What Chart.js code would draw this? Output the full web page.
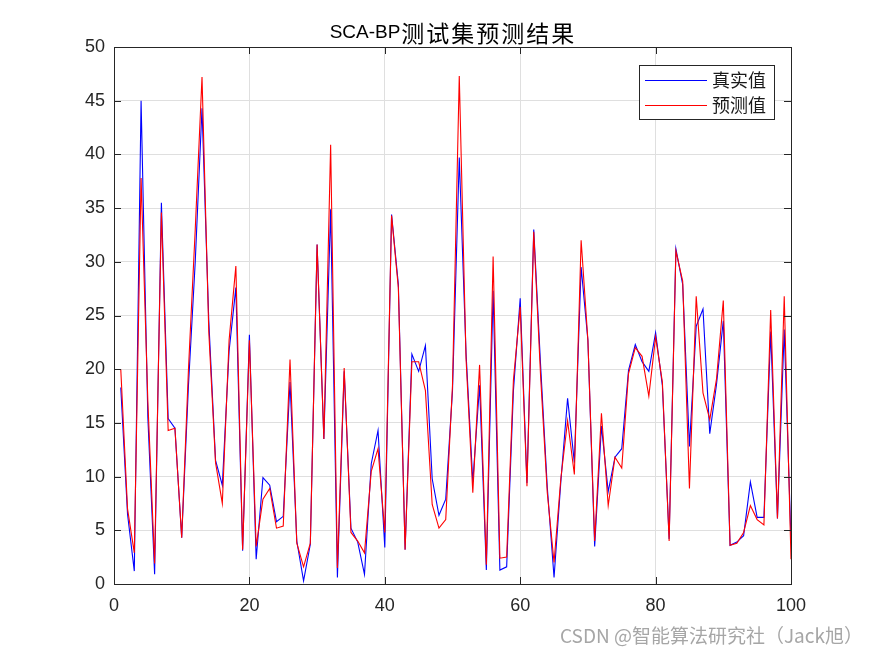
<!DOCTYPE html>
<html>
<head>
<meta charset="utf-8">
<script src="https://cdn.jsdelivr.net/npm/chart.js@4.4.1/dist/chart.umd.min.js"></script>
<style>
    html, body { margin: 0; padding: 0; background: #fff; }
    canvas { display: block; }
</style>
</head>
<body>
<canvas id="chart" width="875" height="656"></canvas>
<script>
// Data (sample index 1..100)
const realValues = [
    18.3, 6.5, 1.2, 45.0, 15.5, 0.9, 35.5, 15.4, 14.5, 4.3,
    18.5, 30.0, 44.3, 24.5, 11.5, 9.2, 21.7, 27.6, 3.1, 23.2,
    2.3, 9.9, 9.2, 5.8, 6.3, 18.8, 4.0, 0.3, 3.7, 31.6,
    13.5, 34.9, 0.6, 19.8, 5.2, 3.9, 0.9, 11.2, 14.3, 3.4,
    34.4, 27.9, 3.2, 21.4, 19.8, 22.2, 9.8, 6.4, 7.9, 18.0,
    39.7, 21.5, 9.5, 18.5, 1.3, 27.3, 1.3, 1.6, 18.0, 26.6,
    9.4, 33.0, 20.5, 9.0, 0.6, 9.5, 17.3, 11.3, 29.5, 22.7,
    3.5, 14.7, 8.6, 11.8, 12.6, 19.9, 22.3, 20.7, 19.8, 23.4,
    18.5, 4.2, 31.2, 27.9, 12.8, 24.0, 25.6, 14.0, 18.6, 24.5,
    3.6, 3.9, 4.5, 9.5, 6.2, 6.2, 23.5, 6.1, 23.7, 4.0
];
const predValues = [
    20.0, 7.0, 2.9, 37.8, 17.0, 1.9, 34.6, 14.3, 14.5, 4.3,
    20.0, 33.0, 47.2, 23.5, 11.3, 7.5, 22.7, 29.6, 3.2, 22.7,
    3.5, 7.9, 8.9, 5.2, 5.4, 20.9, 3.8, 1.6, 3.8, 31.6,
    13.5, 40.9, 1.5, 20.1, 4.8, 4.0, 2.9, 10.5, 12.6, 4.8,
    34.3, 27.6, 3.2, 20.7, 20.7, 18.0, 7.4, 5.2, 6.0, 18.5,
    47.3, 21.0, 8.5, 20.4, 1.8, 30.5, 2.4, 2.5, 19.0, 25.8,
    9.1, 32.8, 19.5, 8.5, 2.0, 9.8, 15.2, 10.2, 32.0, 22.7,
    4.0, 15.9, 7.3, 11.8, 10.8, 19.6, 22.0, 21.2, 17.5, 23.0,
    18.8, 4.0, 31.0, 28.2, 8.9, 26.8, 17.8, 15.3, 19.1, 26.4,
    3.6, 3.8, 4.8, 7.3, 6.0, 5.5, 25.5, 6.1, 26.8, 2.3
];
const seriesNames = ['真实值', '预测值'];
const xTicks = [0, 20, 40, 60, 80, 100];
const yTicks = [0, 5, 10, 15, 20, 25, 30, 35, 40, 45, 50];
const titleText = 'SCA-BP测试集预测结果';
const watermark = 'CSDN @智能算法研究社（Jack旭）';

const axisColor = '#262626';
const tickFont = { family: '"Liberation Sans", Arial, sans-serif', size: 18 };

const toPoints = arr => arr.map((v, i) => ({ x: i + 1, y: v }));

// title, box, inward ticks, legend, watermark
const matlabLook = {
    id: 'matlabLook',
    afterDraw(chart) {
        const ctx = chart.ctx;
        const area = chart.chartArea;
        const xs = chart.scales.x, ys = chart.scales.y;
        ctx.save();

        // box
        ctx.strokeStyle = axisColor;
        ctx.lineWidth = 1;
        ctx.strokeRect(Math.round(area.left) + 0.5, Math.round(area.top) + 0.5,
            Math.round(area.right - area.left), Math.round(area.bottom - area.top));

        // inward ticks
        const tl = 7;
        ctx.beginPath();
        xTicks.forEach(v => {
            const px = Math.round(xs.getPixelForValue(v)) + 0.5;
            ctx.moveTo(px, area.bottom); ctx.lineTo(px, area.bottom - tl);
            ctx.moveTo(px, area.top); ctx.lineTo(px, area.top + tl);
        });
        yTicks.forEach(v => {
            const py = Math.round(ys.getPixelForValue(v)) + 0.5;
            ctx.moveTo(area.left, py); ctx.lineTo(area.left + tl, py);
            ctx.moveTo(area.right, py); ctx.lineTo(area.right - tl, py);
        });
        ctx.stroke();

        // title: latin part + CJK part
        const cx = (area.left + area.right) / 2;
        ctx.fillStyle = '#000';
        ctx.textBaseline = 'middle';
        ctx.font = '19px "Liberation Sans", Arial, sans-serif';
        const latin = titleText.slice(0, 6);
        const cjk = titleText.slice(6);
        const latinW = ctx.measureText(latin).width;
        const step = 25;
        const total = latinW + step * cjk.length;
        let tx = cx - total / 2;
        ctx.textAlign = 'left';
        ctx.fillText(latin, tx, 33);
        tx += latinW;
        ctx.font = '23px "Noto Sans CJK SC", sans-serif';
        for (const ch of cjk) {
            ctx.fillText(ch, tx + 1, 33);
            tx += step;
        }

        // legend
        const lx = area.right - 152, ly = area.top + 18, lw = 135, lh = 54;
        ctx.fillStyle = '#fff';
        ctx.fillRect(lx, ly, lw, lh);
        ctx.strokeStyle = axisColor;
        ctx.strokeRect(Math.round(lx) + 0.5, Math.round(ly) + 0.5, lw, lh);
        ctx.font = '18px "Noto Sans CJK SC", sans-serif';
        chart.data.datasets.forEach((ds, i) => {
            const y = Math.round(ly + 15 + i * 25) + 0.5;
            ctx.strokeStyle = ds.borderColor;
            ctx.beginPath();
            ctx.moveTo(lx + 6, y);
            ctx.lineTo(lx + 68, y);
            ctx.stroke();
            ctx.fillStyle = '#1a1a1a';
            ctx.fillText(ds.label, lx + 73, y);
        });

        // watermark
        ctx.font = '19px "Noto Sans CJK SC", sans-serif';
        ctx.fillStyle = '#a6a6a6';
        ctx.textAlign = 'right';
        ctx.fillText(watermark, 863, 636);

        ctx.restore();
    }
};

new Chart(document.getElementById('chart'), {
    type: 'line',
    data: {
        datasets: [
            {
                label: seriesNames[0],
                data: toPoints(realValues),
                borderColor: '#0000ff',
                borderWidth: 1.1,
                pointRadius: 0,
                tension: 0,
                order: 1
            },
            {
                label: seriesNames[1],
                data: toPoints(predValues),
                borderColor: '#ff0000',
                borderWidth: 1.1,
                pointRadius: 0,
                tension: 0,
                order: 0
            }
        ]
    },
    options: {
        responsive: false,
        animation: false,
        devicePixelRatio: 1,
        layout: { padding: { top: 47, right: 84, left: 0, bottom: 0 } },
        plugins: {
            legend: { display: false },
            title: { display: false },
            tooltip: { enabled: false }
        },
        scales: {
            x: {
                type: 'linear',
                min: 0,
                max: 100,
                afterFit: s => { s.height = 72; },
                afterBuildTicks: s => { s.ticks = xTicks.map(v => ({ value: v })); },
                ticks: { font: tickFont, color: axisColor, padding: 11, maxRotation: 0 },
                grid: { color: '#dfdfdf', drawTicks: false },
                border: { display: false }
            },
            y: {
                min: 0,
                max: 50,
                afterFit: s => { s.width = 114; },
                afterBuildTicks: s => { s.ticks = yTicks.map(v => ({ value: v })); },
                ticks: { font: tickFont, color: axisColor, padding: 9 },
                grid: { color: '#dfdfdf', drawTicks: false },
                border: { display: false }
            }
        }
    },
    plugins: [matlabLook]
});
</script>
</body>
</html>
